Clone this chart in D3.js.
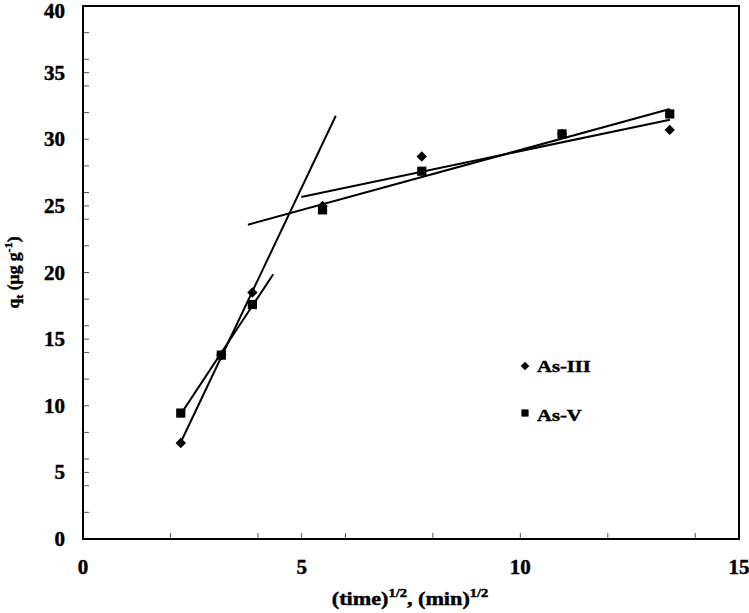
<!DOCTYPE html>
<html><head><meta charset="utf-8">
<script src="https://cdn.jsdelivr.net/npm/d3@7"></script>
<style>body{margin:0;background:#fff}svg{display:block}text{font-family:"Liberation Serif","Times New Roman",serif;font-weight:bold;fill:#000;stroke:#000;stroke-width:0.45px}</style>
</head><body>
<script>
// Data
const sqrtTime = [2.236, 3.162, 3.873, 5.477, 7.746, 10.954, 13.416];
const asIII = [7.2, 13.8, 18.5, 25.0, 28.7, 30.4, 30.7];
const asV = [9.45, 13.8, 17.6, 24.7, 27.6, 30.4, 31.9];
const seriesNames = ["As-III", "As-V"];
// Trend segments: series, point index range, drawn x-extent
const fitSeries = ["As-III", "As-V", "As-III", "As-V"];
const fitFrom = [0, 0, 3, 3];
const fitTo = [2, 2, 6, 6];
const fitXStart = [2.236, 2.236, 4.99, 3.77];
const fitXEnd = [5.78, 4.35, 13.42, 13.42];
const xTickLabels = [0, 5, 10, 15];
const yTickLabels = [0, 5, 10, 15, 20, 25, 30, 35, 40];

const W = 749, H = 613;
const svg = d3.select("body").append("svg").attr("width", W).attr("height", H);
const x = d3.scaleLinear().domain([0, 15]).range([83, 739]);
const y = d3.scaleLinear().domain([0, 40]).range([539, 6]);

// small inside ticks at multiples of 2 and 5
const xt = d3.range(0, 15.01, 1).filter(v => v % 2 === 0 || v % 5 === 0);
const yt = d3.range(0, 40.01, 1).filter(v => v % 2 === 0 || v % 5 === 0);
const g = svg.append("g");
g.selectAll("line.xt").data(xt).join("line")
  .attr("x1", d => x(d)).attr("x2", d => x(d)).attr("y1", y(0)).attr("y2", y(0) - 6)
  .attr("stroke", "#555").attr("stroke-width", 1);
g.selectAll("line.yt").data(yt).join("line")
  .attr("x1", x(0)).attr("x2", x(0) + 6).attr("y1", d => y(d)).attr("y2", d => y(d))
  .attr("stroke", "#555").attr("stroke-width", 1);

// frame
svg.append("rect").attr("x", x(0)).attr("y", y(40)).attr("width", x(15) - x(0)).attr("height", y(0) - y(40))
  .attr("fill", "none").attr("stroke", "#000").attr("stroke-width", 2);

function stext(px, py, sx, size, anchor) {
  return svg.append("g").attr("transform", `translate(${px},${py}) scale(${sx},1)`)
    .append("text").attr("font-size", size).attr("text-anchor", anchor || "start");
}

// tick labels
yTickLabels.forEach(d => stext(65, Math.max(y(d) + 7, 18), 1.05, 20, "end").text(d));
xTickLabels.forEach(d => stext(x(d), 574, 1.05, 20, "middle").text(d));

// fits
const data = {"As-III": asIII, "As-V": asV};
function fit(xs, ys) {
  const n = xs.length, mx = d3.mean(xs), my = d3.mean(ys);
  let sxy = 0, sxx = 0;
  for (let i = 0; i < n; i++) { sxy += (xs[i] - mx) * (ys[i] - my); sxx += (xs[i] - mx) ** 2; }
  const b = sxy / sxx; return {b, a: my - b * mx};
}
fitSeries.forEach((s, i) => {
  const xs = sqrtTime.slice(fitFrom[i], fitTo[i] + 1);
  const ys = data[s].slice(fitFrom[i], fitTo[i] + 1);
  const f = fit(xs, ys);
  svg.append("line")
    .attr("x1", x(fitXStart[i])).attr("y1", y(f.a + f.b * fitXStart[i]))
    .attr("x2", x(fitXEnd[i])).attr("y2", y(f.a + f.b * fitXEnd[i]))
    .attr("stroke", "#000").attr("stroke-width", 2);
});

// markers
const diamond = r => `M0,${-r}L${r},0L0,${r}L${-r},0Z`;
const square = h => `M${-h},${-h}H${h}V${h}H${-h}Z`;
svg.selectAll("path.iii").data(asIII).join("path")
  .attr("d", diamond(5.2)).attr("transform", (d, i) => `translate(${x(sqrtTime[i])},${y(d)})`).attr("fill", "#000");
svg.selectAll("path.v").data(asV).join("path")
  .attr("d", square(4.6)).attr("transform", (d, i) => `translate(${x(sqrtTime[i])},${y(d)})`).attr("fill", "#000");

// legend
svg.append("path").attr("d", diamond(4.3)).attr("transform", "translate(525,366)").attr("fill", "#000");
svg.append("path").attr("d", square(3.6)).attr("transform", "translate(525,413)").attr("fill", "#000");
stext(537, 372, 1.25, 16.5).text(seriesNames[0]);
stext(537, 420.5, 1.25, 16.5).text(seriesNames[1]);

// x title
const xtT = stext(410, 605, 1.2, 18.5, "middle");
xtT.append("tspan").text("(time)");
xtT.append("tspan").attr("dy", -8).attr("font-size", 12).text("1/2");
xtT.append("tspan").attr("dy", 8).text(", (min)");
xtT.append("tspan").attr("dy", -8).attr("font-size", 12).text("1/2");

// y title
const ytT = svg.append("g").attr("transform", "translate(19,272.5) rotate(-90) scale(1.1,1)")
  .append("text").attr("text-anchor", "middle").attr("font-size", 16);
ytT.append("tspan").text("q");
ytT.append("tspan").attr("dy", 4).attr("font-size", 11).text("t");
ytT.append("tspan").attr("dy", -4).text(" (µg g");
ytT.append("tspan").attr("dy", -7).attr("font-size", 11).text("-1");
ytT.append("tspan").attr("dy", 7).text(")");
</script>
</body></html>
